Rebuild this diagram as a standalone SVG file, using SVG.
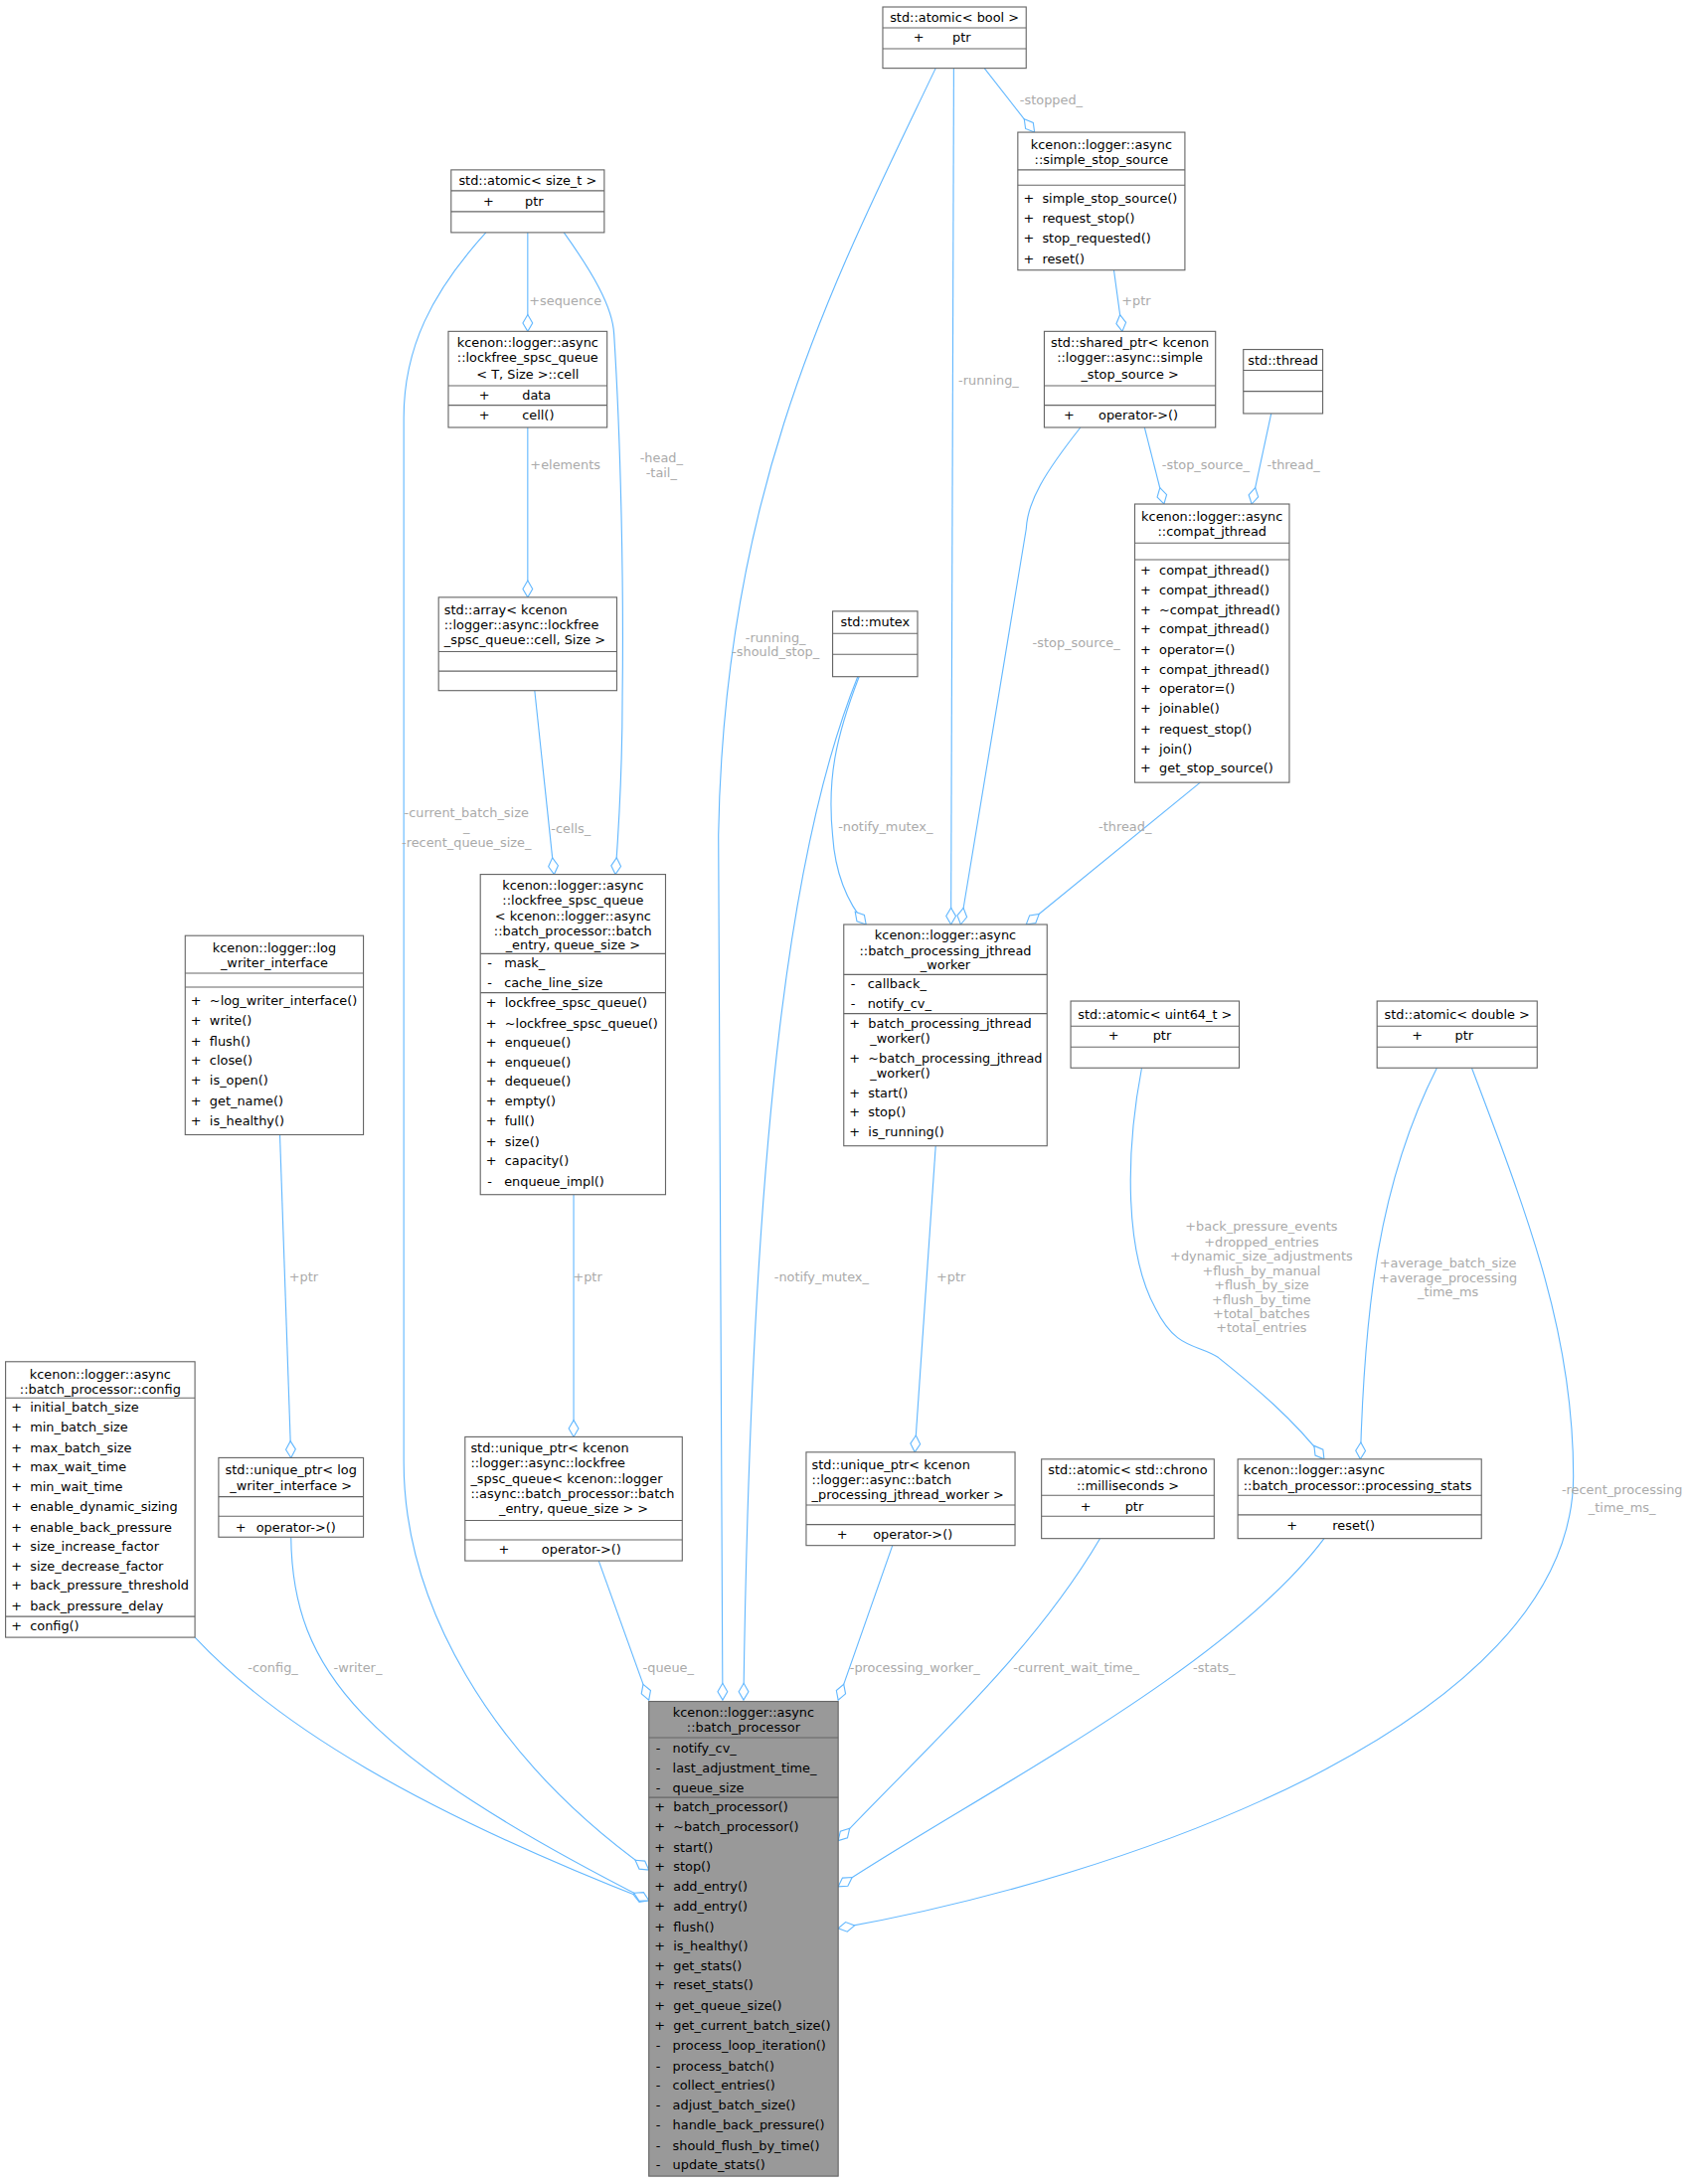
<svg xmlns="http://www.w3.org/2000/svg" width="1699" height="2197" viewBox="0 0 1699 2197">
<style>
.b{fill:#fff;stroke:#666;stroke-width:0.8}
.g{fill:#999;stroke:#666;stroke-width:0.8}
.s{stroke:#666;stroke-width:0.8}
text{font-family:"DejaVu Sans","Liberation Sans",sans-serif;font-size:9.2px;fill:#000;white-space:pre}
.c{text-anchor:middle}
.l{fill:#aaa;text-anchor:middle}
.e{fill:none;stroke:#63b8ff;stroke-width:0.8;marker-end:url(#d)}
</style>
<defs>
<marker id="d" markerUnits="userSpaceOnUse" viewBox="-1 -5 14 10" refX="12" refY="0" markerWidth="14" markerHeight="10" orient="auto">
<path d="M0,0 L6,-3.5 L12,0 L6,3.5 Z" fill="#fff" stroke="#63b8ff" stroke-width="0.8"/>
</marker>
</defs>
<rect width="1699" height="2197" fill="#fff"/>
<g transform="scale(1.4006)">
<g id="edges">
<path class="e" d="M140,1176 C200,1240 300,1300 466,1365"/>
<path class="e" d="M209,1104 C210,1200 260,1260 466,1365"/>
<path class="e" d="M349,167 C310,210 290,250 290,300 L290,1050 C290,1150 350,1260 466,1343"/>
<path class="e" d="M430,1121 L466,1221"/>
<path class="e" d="M672,49 C600,200 520,350 516,600 L519,1221"/>
<path class="e" d="M616,486 C570,600 540,800 534,1221"/>
<path class="e" d="M641,1110 L602,1221"/>
<path class="e" d="M790,1105 C740,1190 660,1260 602,1322"/>
<path class="e" d="M951,1105 C880,1200 700,1290 602,1355"/>
<path class="e" d="M1057,767 C1100,880 1130,960 1130,1060 C1130,1240 800,1350 602,1385"/>
<path class="e" d="M379,167 L379,238"/>
<path class="e" d="M379,307 L379,429"/>
<path class="e" d="M384,496 L398,628"/>
<path class="e" d="M405,167 C425,195 440,220 441,240 C446,320 448,420 447,500 C447,560 444,600 442,628"/>
<path class="e" d="M412,858 L412,1032"/>
<path class="e" d="M201,815 L209,1047"/>
<path class="e" d="M672,823 L657,1043"/>
<path class="e" d="M685,49 L683,664"/>
<path class="e" d="M707,49 L743,95"/>
<path class="e" d="M800,194 L806,238"/>
<path class="e" d="M776,307 C750,340 738,360 737,380 L690,664"/>
<path class="e" d="M822,307 L836,362"/>
<path class="e" d="M913,297 L899,362"/>
<path class="e" d="M862,562 L737,664"/>
<path class="e" d="M617,486 C600,530 594,560 598,600 C600,630 610,650 622,664"/>
<path class="e" d="M820,767 C808,830 808,900 830,940 C845,970 860,965 875,975 C900,995 930,1020 951,1048"/>
<path class="e" d="M1032,767 C990,850 980,940 977,1048"/>
</g>
<g id="labels">
<text class="l" x="196" y="1201">-config_</text>
<text class="l" x="257" y="1201">-writer_</text>
<text class="l" x="335" y="587">-current_batch_size</text>
<text class="l" x="335" y="597">_</text>
<text class="l" x="335" y="608">-recent_queue_size_</text>
<text class="l" x="480" y="1201">-queue_</text>
<text class="l" x="557" y="461">-running_</text>
<text class="l" x="557" y="471">-should_stop_</text>
<text class="l" x="590" y="920">-notify_mutex_</text>
<text class="l" x="657" y="1201">-processing_worker_</text>
<text class="l" x="773" y="1201">-current_wait_time_</text>
<text class="l" x="872" y="1201">-stats_</text>
<text class="l" x="1165" y="1073">-recent_processing</text>
<text class="l" x="1165" y="1086">_time_ms_</text>
<text class="l" x="406" y="219">+sequence</text>
<text class="l" x="406" y="337">+elements</text>
<text class="l" x="410" y="598">-cells_</text>
<text class="l" x="475" y="332">-head_</text>
<text class="l" x="475" y="343">-tail_</text>
<text class="l" x="422" y="920">+ptr</text>
<text class="l" x="218" y="920">+ptr</text>
<text class="l" x="683" y="920">+ptr</text>
<text class="l" x="710" y="276">-running_</text>
<text class="l" x="755" y="75">-stopped_</text>
<text class="l" x="816" y="219">+ptr</text>
<text class="l" x="773" y="465">-stop_source_</text>
<text class="l" x="866" y="337">-stop_source_</text>
<text class="l" x="929" y="337">-thread_</text>
<text class="l" x="808" y="597">-thread_</text>
<text class="l" x="636" y="597">-notify_mutex_</text>
<text class="l" x="906" y="884">+back_pressure_events</text>
<text class="l" x="906" y="895">+dropped_entries</text>
<text class="l" x="906" y="905">+dynamic_size_adjustments</text>
<text class="l" x="906" y="916">+flush_by_manual</text>
<text class="l" x="906" y="926">+flush_by_size</text>
<text class="l" x="906" y="937">+flush_by_time</text>
<text class="l" x="906" y="947">+total_batches</text>
<text class="l" x="906" y="957">+total_entries</text>
<text class="l" x="1040" y="910">+average_batch_size</text>
<text class="l" x="1040" y="921">+average_processing</text>
<text class="l" x="1040" y="931">_time_ms</text>
</g>

<g id="atomic_bool">
<rect class="b" x="634" y="5" width="103" height="44"/>
<line class="s" x1="634" y1="20" x2="737" y2="20"/><line class="s" x1="634" y1="35" x2="737" y2="35"/>
<text class="c" x="685.5" y="16">std::atomic&lt; bool &gt;</text>
<text x="656" y="30">+</text><text x="684" y="30">ptr</text>
</g>

<g id="simple_stop_source">
<rect class="b" x="731" y="95" width="120" height="99"/>
<line class="s" x1="731" y1="122" x2="851" y2="122"/><line class="s" x1="731" y1="133" x2="851" y2="133"/>
<text class="c" x="791" y="107">kcenon::logger::async</text>
<text class="c" x="791" y="118">::simple_stop_source</text>
<text x="735" y="146">+  simple_stop_source()</text>
<text x="735" y="160">+  request_stop()</text>
<text x="735" y="174">+  stop_requested()</text>
<text x="735" y="189">+  reset()</text>
</g>

<g id="atomic_size_t">
<rect class="b" x="324" y="122" width="110" height="45"/>
<line class="s" x1="324" y1="137" x2="434" y2="137"/><line class="s" x1="324" y1="152" x2="434" y2="152"/>
<text class="c" x="379" y="133">std::atomic&lt; size_t &gt;</text>
<text x="347" y="148">+</text><text x="377" y="148">ptr</text>
</g>

<g id="cell">
<rect class="b" x="322" y="238" width="114" height="69"/>
<line class="s" x1="322" y1="277" x2="436" y2="277"/><line class="s" x1="322" y1="291" x2="436" y2="291"/>
<text class="c" x="379" y="249">kcenon::logger::async</text>
<text class="c" x="379" y="260">::lockfree_spsc_queue</text>
<text class="c" x="379" y="272">&lt; T, Size &gt;::cell</text>
<text x="344" y="287">+</text><text x="375" y="287">data</text>
<text x="344" y="301">+</text><text x="375" y="301">cell()</text>
</g>

<g id="shared_ptr_stop">
<rect class="b" x="750" y="238" width="123" height="69"/>
<line class="s" x1="750" y1="277" x2="873" y2="277"/><line class="s" x1="750" y1="291" x2="873" y2="291"/>
<text class="c" x="811.5" y="249">std::shared_ptr&lt; kcenon</text>
<text class="c" x="811.5" y="260">::logger::async::simple</text>
<text class="c" x="811.5" y="272">_stop_source &gt;</text>
<text x="764" y="301">+</text><text x="789" y="301">operator-&gt;()</text>
</g>

<g id="std_thread">
<rect class="b" x="893" y="251" width="57" height="46"/>
<line class="s" x1="893" y1="266" x2="950" y2="266"/><line class="s" x1="893" y1="281" x2="950" y2="281"/>
<text class="c" x="921.5" y="262">std::thread</text>
</g>

<g id="std_array">
<rect class="b" x="315" y="429" width="128" height="67"/>
<line class="s" x1="315" y1="468" x2="443" y2="468"/><line class="s" x1="315" y1="482" x2="443" y2="482"/>
<text x="319" y="441">std::array&lt; kcenon</text>
<text x="319" y="452">::logger::async::lockfree</text>
<text x="319" y="463">_spsc_queue::cell, Size &gt;</text>
</g>

<g id="std_mutex">
<rect class="b" x="598" y="439" width="61" height="47"/>
<line class="s" x1="598" y1="455" x2="659" y2="455"/><line class="s" x1="598" y1="470" x2="659" y2="470"/>
<text class="c" x="628.5" y="450">std::mutex</text>
</g>

<g id="compat_jthread">
<rect class="b" x="815" y="362" width="111" height="200"/>
<line class="s" x1="815" y1="390" x2="926" y2="390"/><line class="s" x1="815" y1="402" x2="926" y2="402"/>
<text class="c" x="870.5" y="374">kcenon::logger::async</text>
<text class="c" x="870.5" y="385">::compat_jthread</text>
<text x="819" y="413">+  compat_jthread()</text>
<text x="819" y="427">+  compat_jthread()</text>
<text x="819" y="441">+  ~compat_jthread()</text>
<text x="819" y="455">+  compat_jthread()</text>
<text x="819" y="470">+  operator=()</text>
<text x="819" y="484">+  compat_jthread()</text>
<text x="819" y="498">+  operator=()</text>
<text x="819" y="512">+  joinable()</text>
<text x="819" y="527">+  request_stop()</text>
<text x="819" y="541">+  join()</text>
<text x="819" y="555">+  get_stop_source()</text>
</g>

<g id="lockfree_queue">
<rect class="b" x="345" y="628" width="133" height="230"/>
<line class="s" x1="345" y1="685" x2="478" y2="685"/><line class="s" x1="345" y1="713" x2="478" y2="713"/>
<text class="c" x="411.5" y="639">kcenon::logger::async</text>
<text class="c" x="411.5" y="650">::lockfree_spsc_queue</text>
<text class="c" x="411.5" y="661">&lt; kcenon::logger::async</text>
<text class="c" x="411.5" y="672">::batch_processor::batch</text>
<text class="c" x="411.5" y="682">_entry, queue_size &gt;</text>
<text x="350" y="695">-   mask_</text>
<text x="350" y="709">-   cache_line_size</text>
<text x="349" y="723">+  lockfree_spsc_queue()</text>
<text x="349" y="738">+  ~lockfree_spsc_queue()</text>
<text x="349" y="752">+  enqueue()</text>
<text x="349" y="766">+  enqueue()</text>
<text x="349" y="780">+  dequeue()</text>
<text x="349" y="794">+  empty()</text>
<text x="349" y="808">+  full()</text>
<text x="349" y="823">+  size()</text>
<text x="349" y="837">+  capacity()</text>
<text x="350" y="852">-   enqueue_impl()</text>
</g>

<g id="log_writer_interface">
<rect class="b" x="133" y="672" width="128" height="143"/>
<line class="s" x1="133" y1="699" x2="261" y2="699"/><line class="s" x1="133" y1="709" x2="261" y2="709"/>
<text class="c" x="197" y="684">kcenon::logger::log</text>
<text class="c" x="197" y="695">_writer_interface</text>
<text x="137" y="722">+  ~log_writer_interface()</text>
<text x="137" y="736">+  write()</text>
<text x="137" y="751">+  flush()</text>
<text x="137" y="765">+  close()</text>
<text x="137" y="779">+  is_open()</text>
<text x="137" y="794">+  get_name()</text>
<text x="137" y="808">+  is_healthy()</text>
</g>

<g id="worker">
<rect class="b" x="606" y="664" width="146" height="159"/>
<line class="s" x1="606" y1="700" x2="752" y2="700"/><line class="s" x1="606" y1="728" x2="752" y2="728"/>
<text class="c" x="679" y="675">kcenon::logger::async</text>
<text class="c" x="679" y="686">::batch_processing_jthread</text>
<text class="c" x="679" y="696">_worker</text>
<text x="611" y="710">-   callback_</text>
<text x="611" y="724">-   notify_cv_</text>
<text x="610" y="738">+  batch_processing_jthread</text>
<text x="625" y="749">_worker()</text>
<text x="610" y="763">+  ~batch_processing_jthread</text>
<text x="625" y="774">_worker()</text>
<text x="610" y="788">+  start()</text>
<text x="610" y="802">+  stop()</text>
<text x="610" y="816">+  is_running()</text>
</g>

<g id="atomic_uint64">
<rect class="b" x="769" y="719" width="121" height="48"/>
<line class="s" x1="769" y1="737" x2="890" y2="737"/><line class="s" x1="769" y1="752" x2="890" y2="752"/>
<text class="c" x="829.5" y="732">std::atomic&lt; uint64_t &gt;</text>
<text x="796" y="747">+</text><text x="828" y="747">ptr</text>
</g>

<g id="atomic_double">
<rect class="b" x="989" y="719" width="115" height="48"/>
<line class="s" x1="989" y1="737" x2="1104" y2="737"/><line class="s" x1="989" y1="752" x2="1104" y2="752"/>
<text class="c" x="1046.5" y="732">std::atomic&lt; double &gt;</text>
<text x="1014" y="747">+</text><text x="1045" y="747">ptr</text>
</g>

<g id="config">
<rect class="b" x="4" y="978" width="136" height="198"/>
<line class="s" x1="4" y1="1004" x2="140" y2="1004"/><line class="s" x1="4" y1="1161" x2="140" y2="1161"/>
<text class="c" x="72" y="990">kcenon::logger::async</text>
<text class="c" x="72" y="1001">::batch_processor::config</text>
<text x="8" y="1014">+  initial_batch_size</text>
<text x="8" y="1028">+  min_batch_size</text>
<text x="8" y="1043">+  max_batch_size</text>
<text x="8" y="1057">+  max_wait_time</text>
<text x="8" y="1071">+  min_wait_time</text>
<text x="8" y="1085">+  enable_dynamic_sizing</text>
<text x="8" y="1100">+  enable_back_pressure</text>
<text x="8" y="1114">+  size_increase_factor</text>
<text x="8" y="1128">+  size_decrease_factor</text>
<text x="8" y="1142">+  back_pressure_threshold</text>
<text x="8" y="1157">+  back_pressure_delay</text>
<text x="8" y="1171">+  config()</text>
</g>

<g id="uptr_writer">
<rect class="b" x="157" y="1047" width="104" height="57"/>
<line class="s" x1="157" y1="1075" x2="261" y2="1075"/><line class="s" x1="157" y1="1089" x2="261" y2="1089"/>
<text class="c" x="209" y="1059">std::unique_ptr&lt; log</text>
<text class="c" x="209" y="1070">_writer_interface &gt;</text>
<text x="169" y="1100">+</text><text x="184" y="1100">operator-&gt;()</text>
</g>

<g id="uptr_queue">
<rect class="b" x="334" y="1032" width="156" height="89"/>
<line class="s" x1="334" y1="1092" x2="490" y2="1092"/><line class="s" x1="334" y1="1106" x2="490" y2="1106"/>
<text x="338" y="1043">std::unique_ptr&lt; kcenon</text>
<text x="338" y="1054">::logger::async::lockfree</text>
<text x="338" y="1065">_spsc_queue&lt; kcenon::logger</text>
<text x="338" y="1076">::async::batch_processor::batch</text>
<text class="c" x="412" y="1087">_entry, queue_size &gt; &gt;</text>
<text x="358" y="1116">+</text><text x="389" y="1116">operator-&gt;()</text>
</g>

<g id="uptr_worker">
<rect class="b" x="579" y="1043" width="150" height="67"/>
<line class="s" x1="579" y1="1081" x2="729" y2="1081"/><line class="s" x1="579" y1="1095" x2="729" y2="1095"/>
<text x="583" y="1055">std::unique_ptr&lt; kcenon</text>
<text x="583" y="1066">::logger::async::batch</text>
<text x="583" y="1077">_processing_jthread_worker &gt;</text>
<text x="601" y="1105">+</text><text x="627" y="1105">operator-&gt;()</text>
</g>

<g id="atomic_ms">
<rect class="b" x="748" y="1048" width="124" height="57"/>
<line class="s" x1="748" y1="1074" x2="872" y2="1074"/><line class="s" x1="748" y1="1089" x2="872" y2="1089"/>
<text class="c" x="810" y="1059">std::atomic&lt; std::chrono</text>
<text class="c" x="810" y="1070">::milliseconds &gt;</text>
<text x="776" y="1085">+</text><text x="808" y="1085">ptr</text>
</g>

<g id="processing_stats">
<rect class="b" x="889" y="1048" width="175" height="57"/>
<line class="s" x1="889" y1="1074" x2="1064" y2="1074"/><line class="s" x1="889" y1="1088" x2="1064" y2="1088"/>
<text x="893" y="1059">kcenon::logger::async</text>
<text x="893" y="1070">::batch_processor::processing_stats</text>
<text x="924" y="1099">+</text><text x="957" y="1099">reset()</text>
</g>

<g id="batch_processor">
<rect class="g" x="466" y="1222" width="136" height="341"/>
<line class="s" x1="466" y1="1248" x2="602" y2="1248"/><line class="s" x1="466" y1="1291" x2="602" y2="1291"/>
<text class="c" x="534" y="1233">kcenon::logger::async</text>
<text class="c" x="534" y="1244">::batch_processor</text>
<text x="471" y="1259">-   notify_cv_</text>
<text x="471" y="1273">-   last_adjustment_time_</text>
<text x="471" y="1287">-   queue_size</text>
<text x="470" y="1301">+  batch_processor()</text>
<text x="470" y="1315">+  ~batch_processor()</text>
<text x="470" y="1330">+  start()</text>
<text x="470" y="1344">+  stop()</text>
<text x="470" y="1358">+  add_entry()</text>
<text x="470" y="1372">+  add_entry()</text>
<text x="470" y="1387">+  flush()</text>
<text x="470" y="1401">+  is_healthy()</text>
<text x="470" y="1415">+  get_stats()</text>
<text x="470" y="1429">+  reset_stats()</text>
<text x="470" y="1444">+  get_queue_size()</text>
<text x="470" y="1458">+  get_current_batch_size()</text>
<text x="471" y="1472">-   process_loop_iteration()</text>
<text x="471" y="1487">-   process_batch()</text>
<text x="471" y="1501">-   collect_entries()</text>
<text x="471" y="1515">-   adjust_batch_size()</text>
<text x="471" y="1529">-   handle_back_pressure()</text>
<text x="471" y="1544">-   should_flush_by_time()</text>
<text x="471" y="1558">-   update_stats()</text>
</g>
</g>
</svg>
